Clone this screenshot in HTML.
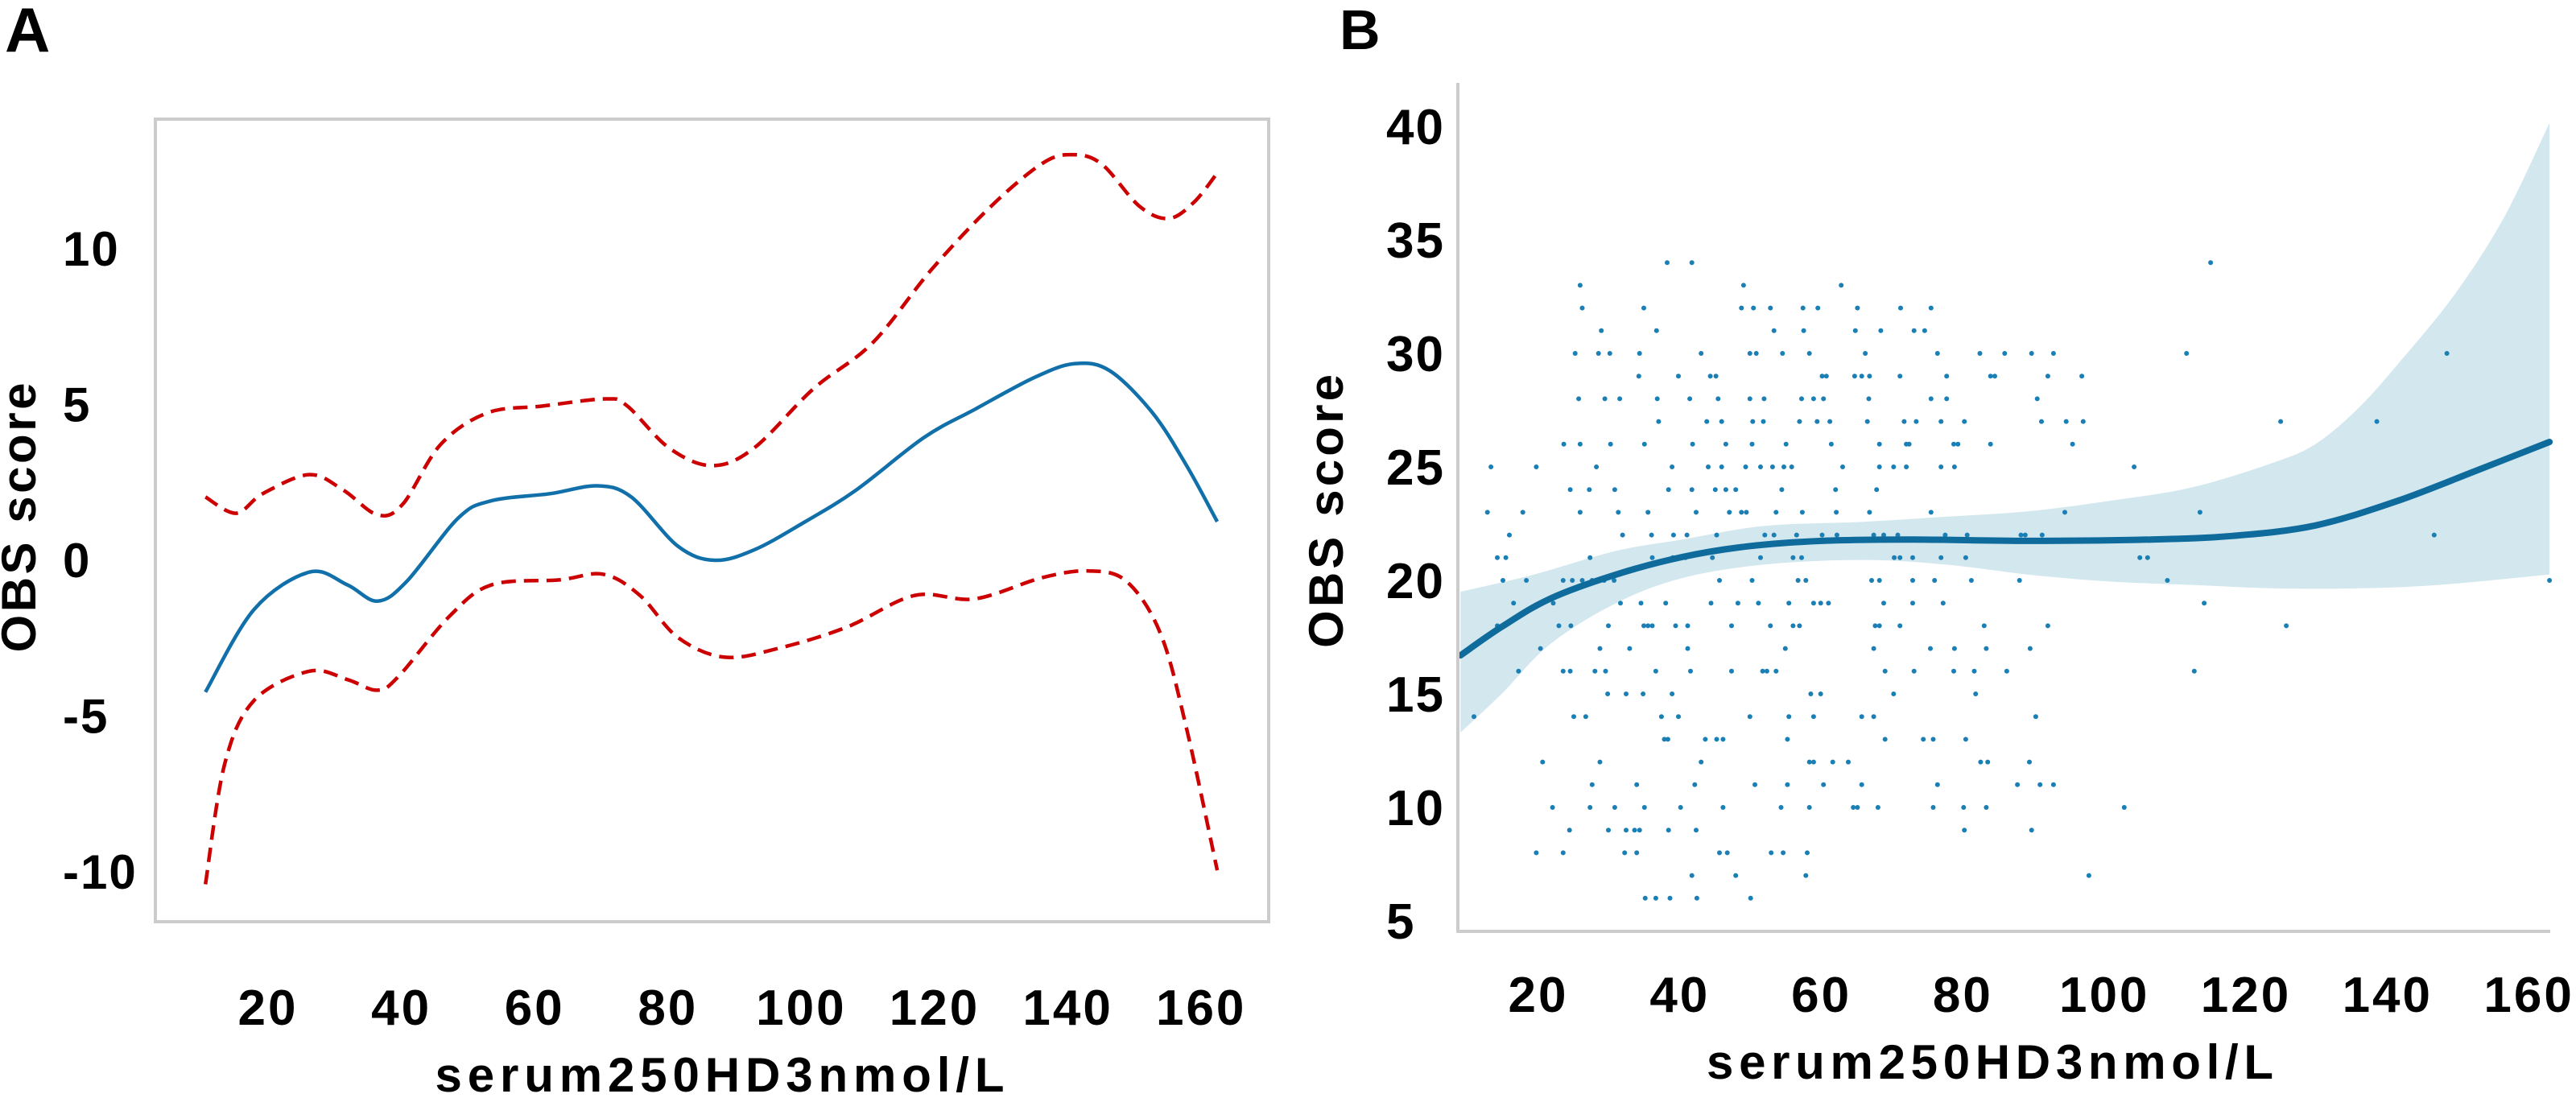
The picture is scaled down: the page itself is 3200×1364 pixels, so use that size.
<!DOCTYPE html>
<html><head><meta charset="utf-8"><style>
html,body{margin:0;padding:0;background:#fff;}
svg{display:block;}
text{font-family:"Liberation Sans",sans-serif;fill:#000;}
</style></head><body>
<svg id="fig" width="3200" height="1364" viewBox="0 0 3200 1364" xmlns="http://www.w3.org/2000/svg">
<g id="panelA">
  <text x="6" y="64" font-size="78" font-weight="bold">A</text>
  <rect x="193" y="148" width="1383" height="997" fill="none" stroke="#cccccc" stroke-width="4"/>
  <g id="aYTicks"></g>
  <g id="aXTicks"></g>
  <g id="aLines"></g>
  <text x="894" y="1356" font-size="60" font-weight="bold" text-anchor="middle" textLength="707" lengthAdjust="spacing">serum250HD3nmol/L</text>
  <text transform="translate(44,643) rotate(-90)" font-size="60" font-weight="bold" text-anchor="middle" textLength="335" lengthAdjust="spacing">OBS score</text>
</g>
<g id="panelB">
  <text x="1664" y="61" font-size="70" font-weight="bold">B</text>
  <g id="bBand"></g>
  <g id="bDots"></g>
  <g id="bLine"></g>
  <line x1="1811" y1="103" x2="1811" y2="1158" stroke="#cccccc" stroke-width="4"/>
  <line x1="1809" y1="1157" x2="3168" y2="1157" stroke="#cccccc" stroke-width="4"/>
  <g id="bYTicks"></g>
  <g id="bXTicks"></g>
  <text x="2472" y="1340" font-size="60" font-weight="bold" text-anchor="middle" textLength="704" lengthAdjust="spacing">serum250HD3nmol/L</text>
  <text transform="translate(1668,635) rotate(-90)" font-size="60" font-weight="bold" text-anchor="middle" textLength="340" lengthAdjust="spacing">OBS score</text>
</g>
</svg>
<script>
// ---- Panel A data ----
const aXTickLabels = [20,40,60,80,100,120,140,160];
const aYTickLabels = [10,5,0,-5,-10];
const aFitX = [10.6,17.9,26.2,31.9,36.4,40.8,48.5,53.5,62.4,69.4,74.5,81.5,87,93,100.6,108.2,118.4,126,134.9,141,146.3,152.7,157.8,162.4];
const aFitY = [-4.23,-1.58,-0.38,-0.79,-1.31,-0.68,1.35,1.91,2.14,2.39,2.03,0.45,0,0.34,1.24,2.25,3.94,4.84,5.86,6.31,6.08,4.73,3.04,1.24];
const aUpX = [10.6,15.2,19.2,26.2,31.3,36.4,40.2,45.9,52.9,61.2,70.7,73.9,80.2,86.6,92.9,101.8,110.7,119.6,128.5,136.1,140.5,145,150.7,155.1,158.9,162.4];
const aUpY = [2.03,1.51,2.14,2.75,2.25,1.46,1.8,3.72,4.73,4.95,5.18,4.95,3.6,3.04,3.6,5.5,6.98,9.35,11.37,12.73,13.02,12.73,11.37,10.97,11.49,12.43];
const aLoX = [10.6,13.5,17.9,26.2,31.9,36.4,39.6,47.2,53.5,63.7,70.3,75.8,81.5,88.5,96.7,106.9,117,126,136.1,143.1,148.8,153.9,157.8,162.4];
const aLoY = [-10.4,-6.53,-4.5,-3.56,-3.83,-4.17,-3.72,-1.8,-0.79,-0.63,-0.45,-1.13,-2.48,-3.11,-2.82,-2.14,-1.13,-1.24,-0.56,-0.34,-0.68,-2.36,-5.4,-9.95];
// ---- Panel B data ----
const bXTickLabels = [20,40,60,80,100,120,140,160];
const bYTickLabels = [40,35,30,25,20,15,10,5];
const bFitX = [9,14.8,21.7,31,40.3,49.6,60.1,72.9,89.1,106.6,118.2,129.8,141.4,153,162.9];
const bFitY = [16.7,17.95,19.2,20.26,21.03,21.5,21.74,21.8,21.74,21.8,21.96,22.42,23.5,24.89,26.1];
const bUpX = [9,19.4,31,40.3,52,65.9,77.5,89.1,100.7,112.4,124,129.8,135.6,141.4,149.5,156.5,162.9];
const bUpY = [19.5,20.26,21.3,21.8,22.4,22.58,22.8,23.04,23.5,24.1,25.2,26,27.5,29.5,32.6,36,40.15];
const bLoX = [9,14.8,21.7,31,40.3,52,65.9,77.5,89.1,100.7,112.4,124,135.6,147.2,162.9];
const bLoY = [13.3,15.0,17.2,19.0,20.1,20.7,20.9,20.7,20.26,19.95,19.8,19.65,19.65,19.8,20.26];
const bRowScores = [34,33,32,31,30,29,28,27,26,25,24,23,22,21,20,19,18,17,16,15,14,13,12,11,10,9,8,7,6];
const bRowVitD = [
 [38.2,41.7,115],
 [25.9,49,62.8],
 [26.2,34.9,48.7,50.4,52.8,57.4,59.5,65.1,71.2,75.5],
 [28.9,36.7,53.3,57.5,64.8,68.4,73.1,74.6],
 [25.2,28.5,30.1,34.3,43,49.9,50.8,54.5,58.3,66.2,76.4,82.4,85.9,89.7,92.8,111.6,148.4],
 [34.2,39.8,44.3,45.1,60.1,60.7,64.7,65.7,66.8,71.1,77.7,83.9,84.5,92,96.8],
 [25.7,29.4,31.5,36.8,41.4,45.4,49.9,51.9,57.2,58.9,60.3,66.7,75.5,77.7,90.5],
 [37,43.8,45.9,50.3,51.8,56.9,59.4,61.2,66.5,71.7,73.4,76.9,80.2,91.1,94.6,97,124.9,138.5],
 [23.6,25.9,30.2,35,41.8,46.5,50.2,55,61.4,68.2,72,72.4,78.7,79.3,83.9,95.5],
 [13.3,19.7,28.2,38.9,44,45.9,49.3,51.4,53.1,54.7,55.8,63,68.2,70.2,72,76.9,78.8,104.2],
 [24.5,27.2,30.8,38.4,41.7,45,46.5,47.9,54.4,62,67.8],
 [12.8,17.8,25.9,31.3,35.5,42.3,47,48.7,49.4,53.6,57.3,62.1,66.8,75.5,94.4,113.5],
 [15.9,31.9,36,39.1,41,45.2,52,53.3,56.5,60.1,62.2,67.4,68.8,70.8,77.5,80.6,88.2,88.8,91.2,146.6],
 [14.2,15.4,27.3,36.1,39,40.8,44.6,51.4,56,57.2,70.3,71.1,72.9,76.9,80.4,105,106.1],
 [15,18.3,23.5,24.8,26.2,27.6,29.3,30.7,45.6,50.2,56.7,57.8,67.1,68.2,72.9,76,81.2,88,108.9,162.9],
 [16.5,22.1,31.6,34.5,38,44.4,48.2,51.1,55.4,58.9,59.9,61,68.8,72.9,77.2,114.1],
 [14.2,22.9,24.6,29.9,34.9,35.5,36.1,39.4,41.1,47.3,52.8,56,56.9,67.6,68.2,71.1,83,92,125.7],
 [20.3,28.7,32.9,41.1,54.9,67.4,75.4,78.8,83.3,89.5],
 [17.2,23.5,24.5,28,29.5,36.6,41.5,47.3,51.7,52.3,53.6,69,73.1,78.7,81.6,86.2,112.7],
 [29.8,32.4,34.8,38.9,58.5,59.9,70.2,81.8],
 [10.9,25,26.7,37.4,39.8,49.9,55.4,58.9,65.7,67.4,90.3],
 [37.8,38.3,43.6,45.2,46.1,55.2,69,74.4,75.8,80.4],
 [20.6,28.7,43,58.3,58.9,61.6,63.8,82.5,83.5,89.4],
 [27.6,33.9,42.1,50.6,55.2,60.3,65.7,76.4,87.7,90.9,92.8],
 [22,27.3,30.8,35,40.1,46.1,54.3,58.3,64.5,65.1,68,75.8,80.1,83.3,102.8],
 [24.4,29.9,32.4,33.6,34.3,38.4,42.3,80.2,89.7],
 [19.7,23.5,32.2,33.9,45.6,46.7,52.9,54.6,58],
 [41.7,47.9,57.8,97.8],
 [35.1,36.6,38.6,42.4,50]
];

const NS = 'http://www.w3.org/2000/svg';
function mk(tag, attrs, parent){ const e=document.createElementNS(NS,tag); for(const k in attrs) e.setAttribute(k,attrs[k]); parent.appendChild(e); return e; }
function smooth(pts){
  let d='M'+pts[0][0].toFixed(1)+','+pts[0][1].toFixed(1);
  for(let i=0;i<pts.length-1;i++){
    const p0=pts[i-1]||pts[i], p1=pts[i], p2=pts[i+1], p3=pts[i+2]||p2;
    const c1=[p1[0]+(p2[0]-p0[0])/6, p1[1]+(p2[1]-p0[1])/6];
    const c2=[p2[0]-(p3[0]-p1[0])/6, p2[1]-(p3[1]-p1[1])/6];
    d+='C'+c1[0].toFixed(1)+','+c1[1].toFixed(1)+' '+c2[0].toFixed(1)+','+c2[1].toFixed(1)+' '+p2[0].toFixed(1)+','+p2[1].toFixed(1);
  }
  return d;
}
// Panel A scales
const axX = v => 333 + (v-20)*8.28;
const axY = v => 696 - v*38.7;
const aYT = document.getElementById('aYTicks');
aYTickLabels.forEach(v=>{
  const t=mk('text',{x:78,y:(axY(v)+21).toFixed(1),'font-size':60,'font-weight':'bold','letter-spacing':2},aYT);
  
  
  t.textContent=String(v);
});
const aXT = document.getElementById('aXTicks');
aXTickLabels.forEach(v=>{
  const t=mk('text',{x:axX(v).toFixed(1),y:1273,'font-size':62,'font-weight':'bold','text-anchor':'middle','letter-spacing':3},aXT);
  
  
  t.textContent=String(v);
});
const aL = document.getElementById('aLines');
const up = mk('path',{d:smooth(aUpX.map((x,i)=>[axX(x),axY(aUpY[i])])),fill:'none',stroke:'#cc0000','stroke-width':4.5,'stroke-dasharray':'18 10'},aL);


const lo = mk('path',{d:smooth(aLoX.map((x,i)=>[axX(x),axY(aLoY[i])])),fill:'none',stroke:'#cc0000','stroke-width':4.5,'stroke-dasharray':'18 10'},aL);


const fa = mk('path',{d:smooth(aFitX.map((x,i)=>[axX(x),axY(aFitY[i])])),fill:'none',stroke:'#1170aa','stroke-width':4.5},aL);



// Panel B scales
const bxX = v => 1911 + (v-20)*8.79;
const byY = v => 1144 - (v-5)*28.2;
const bB = document.getElementById('bBand');
const upD = smooth(bUpX.map((x,i)=>[bxX(x),byY(bUpY[i])]));
const loPts = bLoX.map((x,i)=>[bxX(x),byY(bLoY[i])]).reverse();
const loD = smooth(loPts).replace(/^M/,'L');
const band = mk('path',{d:upD+loD+'Z',fill:'#d3e7ef',stroke:'none'},bB);


const bD = document.getElementById('bDots');
bRowScores.forEach((s,r)=>{
  bRowVitD[r].forEach(x=>{
    const c=mk('circle',{cx:bxX(x).toFixed(1),cy:byY(s).toFixed(1),r:3,fill:'#1a7fb5'},bD);
    
    
  });
});
const bL = document.getElementById('bLine');
const fb = mk('path',{d:smooth(bFitX.map((x,i)=>[bxX(x),byY(bFitY[i])])),fill:'none',stroke:'#0e6b9c','stroke-width':8,'stroke-linecap':'round'},bL);


const bYT = document.getElementById('bYTicks');
bYTickLabels.forEach(v=>{
  const t=mk('text',{x:1722,y:(byY(v)+22).toFixed(1),'font-size':62,'font-weight':'bold','letter-spacing':2},bYT);
  
  
  t.textContent=String(v);
});
const bXT = document.getElementById('bXTicks');
bXTickLabels.forEach(v=>{
  const t=mk('text',{x:bxX(v).toFixed(1),y:1257,'font-size':62,'font-weight':'bold','text-anchor':'middle','letter-spacing':3},bXT);
  
  
  t.textContent=String(v);
});
</script>
</body></html>
